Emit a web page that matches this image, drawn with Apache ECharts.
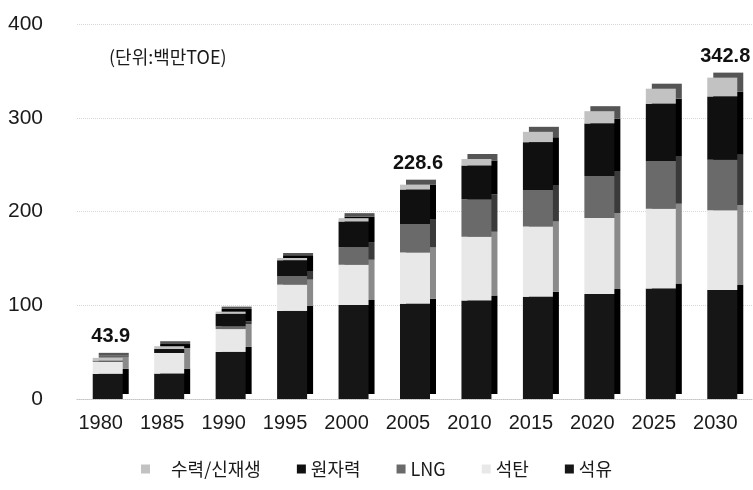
<!DOCTYPE html>
<html>
<head>
<meta charset="utf-8">
<script src="https://cdn.jsdelivr.net/npm/echarts@6/dist/echarts.min.js"></script>
<style>
  html, body { margin: 0; padding: 0; background: #fff; }
  #main { width: 753px; height: 490px; }
</style>
</head>
<body>
<div id="main"></div>
<script>
  // 연도
  var years = ['1980', '1985', '1990', '1995', '2000', '2005', '2010', '2015', '2020', '2025', '2030'];
  // 에너지원별 (백만TOE), 아래에서 위로
  var oil     = [26.8, 27.1, 50.2, 93.9, 100.3, 101.5, 105, 109, 112, 118, 116.3];
  var coal    = [13.2, 22.0, 24.4, 28.1, 42.9, 54.8, 68, 75, 81, 85, 85];
  var lng     = [0, 0, 3.0, 9.2, 18.9, 30.4, 40, 39, 45, 51, 54];
  var nuclear = [0.9, 4.2, 13.2, 16.8, 27.2, 36.7, 36, 51, 56, 61, 67.5];
  var hydro   = [3.0, 3.0, 2.4, 2.4, 3.6, 5.2, 7, 11, 13, 16, 20];
  // 합계를 표시할 연도 위치
  var totalIdx = [0, 5, 10];
  var yTicks = [0, 100, 200, 300, 400];

  var latin = '"Liberation Sans", Arial, sans-serif';
  var kr = '"Noto Sans CJK KR", sans-serif';

  function total(i) {
    return oil[i] + coal[i] + lng[i] + nuclear[i] + hydro[i];
  }

  // 입체 느낌: 오른쪽 위로 그림자를 줘서 옆면/윗면 흉내
  function barSeries(name, data, color, side) {
    return {
      name: name,
      type: 'bar',
      stack: 'total',
      barWidth: 30,
      data: data,
      itemStyle: {
        color: color,
        shadowColor: side,
        shadowBlur: 0,
        shadowOffsetX: 6,
        shadowOffsetY: -5
      }
    };
  }

  var chart = echarts.init(document.getElementById('main'));

  var hydroData = hydro.map(function (v, i) {
    if (totalIdx.indexOf(i) < 0) return v;
    return { value: v, label: { show: true } };
  });

  var series = [
    barSeries('석유', oil, '#161616', '#000'),
    barSeries('석탄', coal, '#e8e8e8', '#8a8a8a'),
    barSeries('LNG', lng, '#6a6a6a', '#3a3a3a'),
    barSeries('원자력', nuclear, '#101010', '#000'),
    barSeries('수력/신재생', hydroData, '#c2c2c2', '#555')
  ];
  series[4].label = {
    show: false,
    position: 'top',
    distance: 11,
    offset: [3, 0],
    color: '#111',
    fontFamily: latin,
    fontSize: 20,
    fontWeight: 'bold',
    formatter: function (p) { return total(p.dataIndex).toFixed(1); }
  };

  chart.setOption({
    backgroundColor: '#fff',
    animation: false,
    title: {
      text: '(단위:백만TOE)',
      left: 104,
      top: 43,
      textStyle: { fontFamily: kr, fontSize: 18, fontWeight: 'normal', color: '#1a1a1a' }
    },
    legend: {
      data: [
        { name: '수력/신재생', textStyle: { padding: [0, 0, 0, 16] } },
        '원자력', 'LNG', '석탄', '석유'
      ],
      left: 'center',
      top: 455,
      itemWidth: 9,
      itemHeight: 9,
      itemGap: 36,
      icon: 'rect',
      textStyle: { fontFamily: kr, fontSize: 18, color: '#1a1a1a' }
    },
    grid: { left: 77, right: 0, top: 24, bottom: 91 },
    xAxis: {
      type: 'category',
      data: years,
      axisTick: { show: false },
      axisLine: { lineStyle: { color: '#c4c4c4', type: 'dotted' } },
      axisLabel: {
        interval: 0,
        margin: 14,
        padding: [0, 14, 0, 0],
        fontFamily: latin,
        fontSize: 20,
        color: '#1a1a1a'
      }
    },
    yAxis: {
      type: 'value',
      min: yTicks[0],
      max: yTicks[yTicks.length - 1],
      interval: 100,
      axisLine: { show: false },
      axisTick: { show: false },
      splitLine: { lineStyle: { color: '#d6d6d6', type: 'dotted' } },
      axisLabel: {
        margin: 34,
        fontFamily: latin,
        fontSize: 21,
        color: '#1a1a1a'
      }
    },
    series: series
  });
</script>
</body>
</html>
